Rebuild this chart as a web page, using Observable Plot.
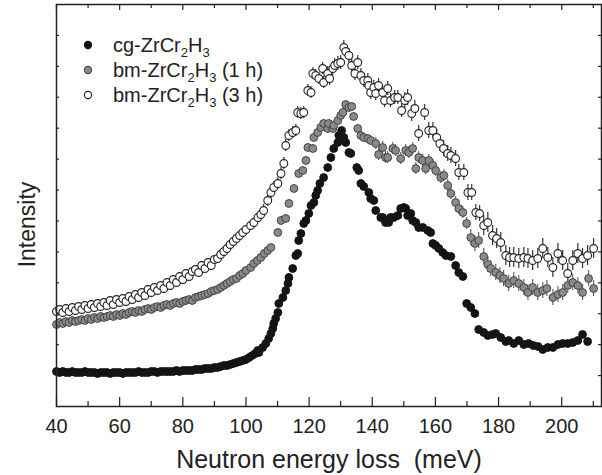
<!DOCTYPE html>
<html><head><meta charset="utf-8">
<script src="https://cdn.jsdelivr.net/npm/d3@7"></script>
<script src="https://cdn.jsdelivr.net/npm/@observablehq/plot@0.6"></script>
<style>
body{margin:0;background:#fff}
#wrap{position:relative;width:602px;height:475px;font-family:"Liberation Sans",Arial,sans-serif}
.row{position:absolute;left:82px;height:24px;display:flex;align-items:center;font-size:20px;color:#222;white-space:nowrap}
.row svg{margin-right:19px}
sub{font-size:13px;vertical-align:-5px;line-height:0}
</style></head><body><div id="wrap"></div>
<script>
// Energy (meV), intensity (arbitrary units)
const cg = [[40,35],[41,34],[42,35],[43,34],[44,34],[45,35],[46,34],[47,34],[48,34],[49,35],[50,34],[51,34],[52,34],[53,33],[54,34],[55,34],[56,34],[57,33],[58,34],[59,34],[60,34],[61,33],[62,34],[63,34],[64,34],[65,34],[66,35],[67,34],[68,34],[69,34],[70,35],[71,35],[72,34],[73,35],[74,35],[75,35],[76,35],[77,35],[78,36],[79,35],[80,36],[81,36],[82,36],[83,36],[84,37],[85,37],[86,37],[87,38],[88,38],[89,38],[90,39],[91,39],[92,40],[93,41],[94,41],[95,42],[96,43],[97,44],[98,45],[99,46],[100,47],
[101,49],[102,51],[103,53],[103.7,56],[104.1,54],[105.3,59],[106.3,63],[107.2,68],[107.9,73],[108.5,78],[108.8,83],[109.4,88],[110.1,94],[110.4,103],[111.7,109],[112.6,116],[113.3,123],[113.6,129],[114.8,138],[115.8,151],[116.4,153],[116.7,166],[117.4,173],[118.3,183],[119.0,186],[119.9,193],[120.6,201],[121.5,204],[122.1,211],[122.7,216],[123.4,223],[124.6,229],[125.9,239],[126.9,249],[127.8,258],[129.1,264],[129.4,271],[130.3,276],[131.0,269],[131.6,264],[132.6,254],[133.2,253],[135.1,239],[135.7,236],[136.4,223],[137.3,220],[138.9,214],[139.5,208],[140.5,206],[141.1,196],[142.7,189],[143.3,189],[144.2,184],[145.2,184],[145.8,189],[146.8,189],[148.1,191],[149.0,198],[150.0,199],[150.6,198],[151.2,191],[152.2,193],[152.8,186],[153.8,184],[154.7,179],[156.0,179],[157.6,176],[158.5,174],[159.2,163],[160.1,161],[161.1,158],[162.3,154],[163.3,151],[164.9,150],[166.4,141],[167.4,134],[168.7,130],[169.9,103],[171.2,99],[172.5,93],[173.7,77],[175.3,74],[176.6,71],[178.1,72],[179.1,73],[180.7,69],[182.3,65],[183.2,66],[184.8,63],[186.4,66],[188.0,62],[189.5,63],[191.0,61],[192.5,60],[194.0,57],[195.6,59],[197.2,59],[198.8,62],[200.3,63],[201.9,63],[203.5,64],[205.1,66],[206.6,72],[208.2,65]];

const bm1 = [[40,82],[41,84],[42,83],[43,85],[44,84],[45,86],[46,85],[47,86],[48,87],[49,86],[50,88],[51,87],[52,89],[53,88],[54,90],[55,89],[56,90],[57,91],[58,90],[59,92],[60,91],[61,93],[62,92],[63,94],[64,95],[65,94],[66,96],[67,95],[68,97],[69,98],[70,97],[71,99],[72,100],[73,99],[74,101],[75,102],[76,101],[77,103],[78,104],[79,103],[80,105],[81,106],[82,107],[83,106],[84,109],[85,110],[86,111],[87,112],[88,113],[89,115],[90,116],[91,117],[92,119],[93,121],[94,123],[95,125],[96,127],[97,128],[98,131],[99,133],[100,136],
[101.5,139],[102.5,143],[103.6,146],[104.7,149],[105.8,153],[106.9,156],[107.9,159],[110.1,174],[111.1,186],[112.6,188],[113.6,203],[115.2,218],[116.7,233],[118.0,236],[119.0,246],[119.6,259],[121.2,258],[121.5,269],[122.7,274],[123.7,279],[124.6,283],[125.9,278],[126.2,283],[127.5,278],[127.8,281],[129.1,286],[130.0,291],[130.7,294],[131.6,302],[132.6,299],[133.5,300],[134.1,290],[135.4,278],[136.4,271],[137.3,269],[138.6,268],[139.5,266],[141.1,263],[142.0,252],[143.3,259],[144.2,249],[144.9,249],[146.5,258],[147.4,256],[149.0,248],[150.6,256],[151.6,254],[152.8,258],[153.8,238],[154.7,249],[156.0,246],[156.9,238],[157.9,246],[159.2,241],[160.1,236],[161.7,229],[162.7,231],[163.9,221],[164.9,213],[166.4,204],[167.4,198],[168.7,194],[169.9,183],[171.2,169],[172.5,163],[173.7,166],[175.3,150],[176.6,142],[177.5,138],[179.1,134],[180.4,131],[181.6,128],[183.2,123],[184.8,126],[186.4,123],[188.0,119],[189.3,114],[190.8,119],[192.4,114],[194.0,116],[195.3,118],[197.2,109],[198.8,112],[200.3,114],[201.9,121],[203.5,124],[205.1,121],[206.6,114],[208.5,128],[210.1,118]];

const bm3 = [[40,95],[41,97],[42,94],[43,98],[44,95],[45,99],[46,96],[47,100],[48,97],[49,101],[50,98],[51,102],[52,99],[53,103],[54,100],[55,104],[56,101],[57,106],[58,102],[59,107],[60,104],[61,108],[62,105],[63,110],[64,107],[65,112],[66,109],[67,114],[68,111],[69,117],[70,114],[71,119],[72,116],[73,121],[74,118],[75,124],[76,121],[77,127],[78,124],[79,130],[80,127],[81,133],[82,130],[83,135],[84,137],[85,134],[86,141],[87,138],[88,144],[89,141],[90,147],[91,148],[92,152],[93,155],[94,158],[95,162],[96,165],[97,168],[98,171],[99,174],[100,177],
[101.5,181],[102.5,184],[103.8,189],[104.7,192],[105.6,196],[106.9,206],[107.9,214],[108.8,219],[110.1,223],[111.1,233],[112.0,243],[112.6,261],[113.6,271],[114.8,274],[115.8,276],[116.4,294],[117.4,293],[118.3,294],[119.6,316],[120.6,314],[121.2,333],[122.1,331],[123.1,328],[124.3,338],[124.6,324],[125.9,333],[126.5,328],[127.5,338],[128.1,341],[129.1,343],[130.0,344],[131.0,359],[131.6,355],[132.6,351],[133.5,341],[134.5,333],[135.4,344],[136.4,331],[137.3,326],[138.6,326],[138.9,321],[139.5,314],[140.5,319],[141.1,313],[142.0,321],[143.3,314],[143.9,306],[144.9,318],[145.8,306],[147.1,309],[148.1,309],[149.3,296],[150.3,306],[151.2,309],[152.5,293],[153.5,298],[154.7,273],[156.6,294],[157.9,276],[159.2,276],[160.4,269],[161.4,263],[162.6,258],[163.9,253],[164.9,251],[166.4,248],[167.4,234],[169.0,234],[170.3,214],[171.5,214],[172.8,194],[174.0,193],[175.3,181],[176.6,184],[178.1,171],[179.4,168],[180.7,164],[182.3,151],[183.5,149],[184.8,149],[186.4,148],[188.0,149],[189.3,148],[190.8,146],[192.4,148],[194.0,158],[195.6,149],[197.2,139],[198.8,153],[200.3,146],[201.9,133],[203.5,146],[205.1,153],[206.6,148],[208.2,151],[210.1,158]];

// error bar half-lengths by energy band
const bm3ErrFrom = [40, 105, 125, 150, 175];
const bm3Err     = [2, 6, 7, 8, 10];
const bm1ErrFrom = [40, 110, 140, 170];
const bm1Err     = [2, 4, 6, 8];

const xMajor = [40, 60, 80, 100, 120, 140, 160, 180, 200];
const xMinor = [50, 70, 90, 110, 130, 150, 170, 190, 210];
const yTicks = d3.range(1, 13).map(k => k * 402 / 13);
const xLabel = "Neutron energy loss  (meV)";
const yLabel = "Intensity";

const errAt = (from, vals) => E => vals[Math.max(0, d3.bisectRight(from, E) - 1)];
const e3 = errAt(bm3ErrFrom, bm3Err), e1 = errAt(bm1ErrFrom, bm1Err);
const rows = a => a.map(([E, I]) => ({E, I}));
const cgR = rows(cg), bm1R = rows(bm1), bm3R = rows(bm3);

const chart = Plot.plot({
  width: 602, height: 475,
  marginTop: 4, marginRight: 1, marginBottom: 69, marginLeft: 56,
  style: {fontFamily: "Liberation Sans, Arial, sans-serif", background: "#fff", color: "#222"},
  x: {domain: [40, 212.6], axis: null},
  y: {domain: [0, 402], axis: null},
  marks: [
    Plot.ruleX(bm3R, {x: "E", y1: d => d.I - e3(d.E), y2: d => d.I + e3(d.E), stroke: "#333", strokeWidth: 1.2}),
    Plot.ruleX(bm1R, {x: "E", y1: d => d.I - e1(d.E), y2: d => d.I + e1(d.E), stroke: "#666", strokeWidth: 1.2}),
    Plot.dot(bm3R, {x: "E", y: "I", r: 3.9, fill: "#fff", stroke: "#222", strokeWidth: 1.1}),
    Plot.dot(bm1R, {x: "E", y: "I", r: 3.9, fill: "#8a8a8a", stroke: "#444", strokeWidth: 1}),
    Plot.dot(cgR, {x: "E", y: "I", r: 3.9, fill: "#141414", stroke: "#141414", strokeWidth: 1}),
    Plot.tickX(xMajor, {x: d => d, insetTop: 393, stroke: "#222", strokeWidth: 1.2}),
    Plot.tickX(xMinor, {x: d => d, insetTop: 397, stroke: "#222", strokeWidth: 1.2}),
    Plot.tickX(xMajor, {x: d => d, insetBottom: 396, stroke: "#222", strokeWidth: 1.2}),
    Plot.tickX(xMinor, {x: d => d, insetBottom: 398, stroke: "#222", strokeWidth: 1.2}),
    Plot.tickY(yTicks, {y: d => d, insetRight: 542, stroke: "#222", strokeWidth: 1.2}),
    Plot.tickY(yTicks, {y: d => d, insetLeft: 542, stroke: "#222", strokeWidth: 1.2}),
    Plot.frame({stroke: "#222", strokeWidth: 1.5}),
    Plot.text(xMajor, {x: d => d, text: d => String(d), frameAnchor: "bottom", dy: 26, fontSize: 20, fill: "#222"}),
    Plot.text([xLabel], {frameAnchor: "bottom", dy: 61, fontSize: 25, fill: "#222"}),
    Plot.text([yLabel], {frameAnchor: "left", textAnchor: "middle", lineAnchor: "middle", dx: -29, dy: 19, rotate: -90, fontSize: 23, fill: "#222"})
  ]
});
const wrap = document.getElementById("wrap");
wrap.appendChild(chart);

const legend = [
  {top: 33, fill: "#141414", stroke: "#141414", html: "cg-ZrCr<sub>2</sub>H<sub>3</sub>"},
  {top: 58, fill: "#8a8a8a", stroke: "#444", html: "bm-ZrCr<sub>2</sub>H<sub>3</sub> (1 h)"},
  {top: 83, fill: "#fff", stroke: "#222", html: "bm-ZrCr<sub>2</sub>H<sub>3</sub> (3 h)"}
];
for (const l of legend) {
  const row = document.createElement("div");
  row.className = "row";
  row.style.top = l.top + "px";
  row.innerHTML = `<svg width="12" height="12"><circle cx="6" cy="6" r="3.6" fill="${l.fill}" stroke="${l.stroke}" stroke-width="1.1"/></svg><span>${l.html}</span>`;
  wrap.appendChild(row);
}
</script>
</body></html>
